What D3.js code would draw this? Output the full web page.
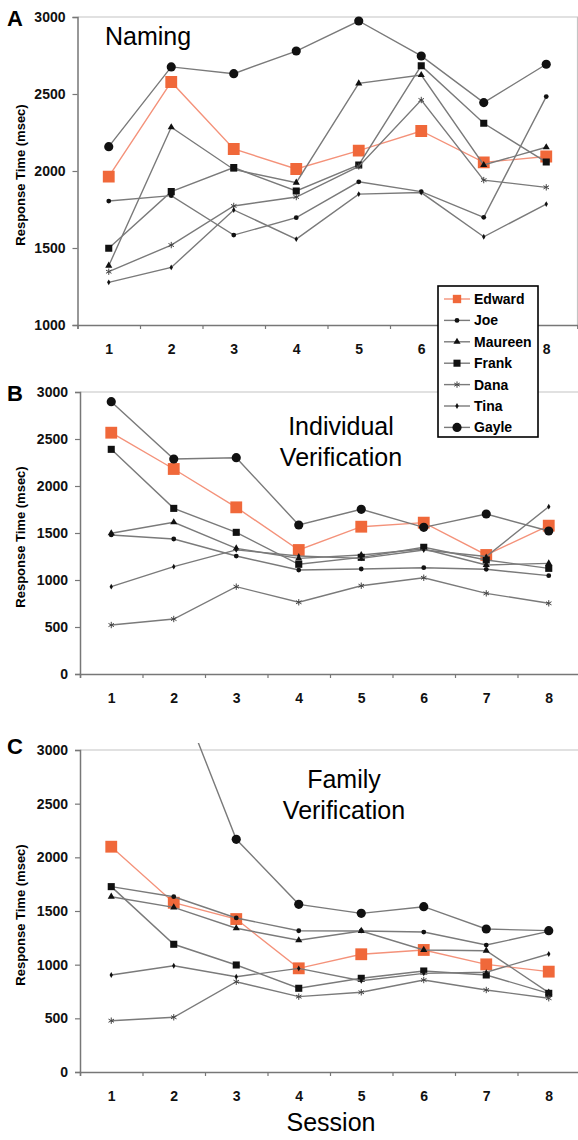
<!DOCTYPE html>
<html>
<head>
<meta charset="utf-8">
<script src="https://cdn.jsdelivr.net/npm/d3@7"></script>
<style>
  body { margin: 0; background: #fff; }
  svg { display: block; font-family: "Liberation Sans", Arial, sans-serif; }
</style>
</head>
<body>
<script>
"use strict";

const sessions = [1, 2, 3, 4, 5, 6, 7, 8]
const names = ["Edward", "Joe", "Maureen", "Frank", "Dana", "Tina", "Gayle"]

// response times (msec), one row per name in the order above
const namingRT = [
    [1963, 2578, 2143, 2013, 2132, 2260, 2056, 2094],
    [1805, 1840, 1584, 1697, 1930, 1866, 1699, 2483],
    [1385, 2284, 2010, 1924, 2569, 2623, 2039, 2154],
    [1498, 1866, 2022, 1870, 2039, 2684, 2310, 2058],
    [1346, 1519, 1773, 1831, 2030, 2461, 1941, 1894],
    [1277, 1374, 1747, 1558, 1850, 1860, 1573, 1785],
    [2158, 2676, 2632, 2779, 2974, 2747, 2444, 2693]
]
const individualRT = [
    [2567, 2181, 1773, 1319, 1567, 1610, 1266, 1578],
    [1479, 1436, 1255, 1106, 1117, 1131, 1114, 1046],
    [1497, 1614, 1337, 1230, 1266, 1330, 1160, 1177],
    [2390, 1762, 1507, 1167, 1241, 1348, 1213, 1124],
    [521, 585, 929, 763, 939, 1024, 858, 752],
    [929, 1142, 1320, 1255, 1230, 1319, 1250, 1780],
    [2897, 2287, 2301, 1585, 1752, 1560, 1702, 1521]
]
const familyRT = [
    [2099, 1577, 1425, 966, 1097, 1137, 1003, 935],
    [1727, 1633, 1435, 1316, 1314, 1304, 1183, 1310],
    [1633, 1534, 1339, 1227, 1314, 1137, 1130, 740],
    [1727, 1190, 997, 780, 873, 941, 904, 733],
    [478, 510, 841, 702, 743, 857, 764, 687],
    [904, 990, 888, 965, 850, 919, 930, 1099],
    [4200, 3650, 2168, 1562, 1478, 1540, 1332, 1317]
]
const yTicksNaming = [1000, 1500, 2000, 2500, 3000]
const yTicksVerif = [0, 500, 1000, 1500, 2000, 2500, 3000]

const W = 578, H = 1140
const svg = d3.select("body").append("svg").attr("width", W).attr("height", H)

const panels = [
    // the legend sits over session 7 of panel A, so that label is left out
    { letter: "A", letterY: 26, top: 17, bottom: 325, left: 77.5, right: 577.5,
      domain: [1000, 3000], ticks: yTicksNaming, data: namingRT, labels: sessions.filter(s => s !== 7),
      title: ["Naming"], titleX: 105, titleY: 45, titleAnchor: "start" },
    { letter: "B", letterY: 401, top: 392, bottom: 674, left: 80, right: 580,
      domain: [0, 3000], ticks: yTicksVerif, data: individualRT, labels: sessions,
      title: ["Individual", "Verification"], titleX: 341, titleY: 435, titleAnchor: "middle" },
    { letter: "C", letterY: 754, top: 750, bottom: 1072, left: 80, right: 580,
      domain: [0, 3000], ticks: yTicksVerif, data: familyRT, labels: sessions,
      title: ["Family", "Verification"], titleX: 344, titleY: 788, titleAnchor: "middle" }
]

// marker look per name
const markers = {
    Edward:  { type: d3.symbolSquare, size: 140, fill: "#f0683a", stroke: "none" },
    Joe:     { type: d3.symbolCircle, size: 18, fill: "#111", stroke: "none" },
    Maureen: { type: d3.symbolTriangle, size: 22, fill: "#111", stroke: "none" },
    Frank:   { type: d3.symbolSquare, size: 50, fill: "#111", stroke: "none" },
    Dana:    { type: d3.symbolAsterisk, size: 28, fill: "none", stroke: "#444" },
    Tina:    { type: d3.symbolDiamond, size: 10, fill: "#111", stroke: "none" },
    Gayle:   { type: d3.symbolCircle, size: 66, fill: "#111", stroke: "none" }
}
const lineColor = name => name === "Edward" ? "#f4927a" : "#7a7a7a"

function drawPanel(p, idx) {
    const x = d3.scaleLinear().domain([0.5, 8.5]).range([p.left, p.right])
    const y = d3.scaleLinear().domain(p.domain).range([p.bottom, p.top])
    const g = svg.append("g")

    // light frame on top and right
    g.append("path")
        .attr("d", `M${p.left},${p.top}H${p.right}V${p.bottom}`)
        .attr("fill", "none").attr("stroke", "#c4c4c4").attr("stroke-width", 1.2)

    const yAxis = d3.axisLeft(y).tickValues(p.ticks).tickSize(5).tickPadding(7).tickFormat(d3.format("d"))
    g.append("g").attr("transform", `translate(${p.left},0)`).call(yAxis)
        .call(a => a.select(".domain").attr("stroke", "#777").attr("stroke-width", 1.5))
        .call(a => a.selectAll(".tick line").attr("stroke", "#777").attr("stroke-width", 1.2))
        .call(a => a.selectAll("text").attr("font-size", 14).attr("font-weight", "bold").attr("fill", "#111"))

    // tick marks between sessions
    const xMarks = d3.axisBottom(x).tickValues(d3.range(0.5, 9, 1)).tickSize(4).tickFormat("")
    g.append("g").attr("transform", `translate(0,${p.bottom})`).call(xMarks)
        .call(a => a.select(".domain").attr("stroke", "#777").attr("stroke-width", 1.5))
        .call(a => a.selectAll(".tick line").attr("stroke", "#777").attr("stroke-width", 1.2))

    const xLabels = d3.axisBottom(x).tickValues(p.labels).tickSize(0).tickPadding(19)
    g.append("g").attr("transform", `translate(0,${p.bottom})`).call(xLabels)
        .call(a => a.select(".domain").remove())
        .call(a => a.selectAll("text").attr("font-size", 14).attr("font-weight", "bold").attr("fill", "#111"))

    g.append("text")
        .attr("transform", `translate(25,${(p.top + p.bottom) / 2 + 4}) rotate(-90)`)
        .attr("text-anchor", "middle").attr("font-size", 13).attr("font-weight", "bold")
        .text("Response Time (msec)")

    g.append("text").attr("x", 7).attr("y", p.letterY)
        .attr("font-size", 22).attr("font-weight", "bold").text(p.letter)

    p.title.forEach((t, i) => {
        g.append("text").attr("x", p.titleX).attr("y", p.titleY + i * 31)
            .attr("text-anchor", p.titleAnchor).attr("font-size", 25).text(t)
    })

    const clipId = "clip" + idx
    svg.append("clipPath").attr("id", clipId).append("rect")
        .attr("x", p.left).attr("y", p.top - 7).attr("width", p.right - p.left).attr("height", p.bottom - p.top + 7)
    const plot = g.append("g").attr("clip-path", `url(#${clipId})`)
    const line = d3.line().x((d, i) => x(sessions[i])).y(d => y(d))

    names.forEach((name, k) => {
        const vals = p.data[k]
        plot.append("path").datum(vals)
            .attr("d", line).attr("fill", "none")
            .attr("stroke", lineColor(name)).attr("stroke-width", 1.4)
        const m = markers[name]
        const pts = vals.map((v, i) => [sessions[i], v]).filter(d => d[1] <= p.domain[1])
        plot.selectAll(null).data(pts)
            .enter().append("path")
            .attr("transform", d => `translate(${x(d[0])},${y(d[1])})`)
            .attr("d", d3.symbol().type(m.type).size(m.size))
            .attr("fill", m.fill).attr("stroke", m.stroke).attr("stroke-width", 1)
    })
}

panels.forEach(drawPanel)

svg.append("text").attr("x", 331).attr("y", 1131).attr("text-anchor", "middle")
    .attr("font-size", 25).text("Session")

// legend over panels A and B
const legend = svg.append("g")
legend.append("rect").attr("x", 438).attr("y", 286).attr("width", 100).attr("height", 151)
    .attr("fill", "#fff").attr("stroke", "#000").attr("stroke-width", 1.6)
names.forEach((name, i) => {
    const cy = 299 + i * 21.4
    const m = markers[name]
    legend.append("line").attr("x1", 444).attr("x2", 470).attr("y1", cy).attr("y2", cy)
        .attr("stroke", lineColor(name)).attr("stroke-width", 1.4)
    legend.append("path").attr("transform", `translate(457,${cy})`)
        .attr("d", d3.symbol().type(m.type).size(name === "Edward" ? 70 : m.size))
        .attr("fill", m.fill).attr("stroke", m.stroke).attr("stroke-width", 1)
    legend.append("text").attr("x", 474).attr("y", cy + 5)
        .attr("font-size", 14).attr("font-weight", "bold").text(name)
})
</script>
</body>
</html>
